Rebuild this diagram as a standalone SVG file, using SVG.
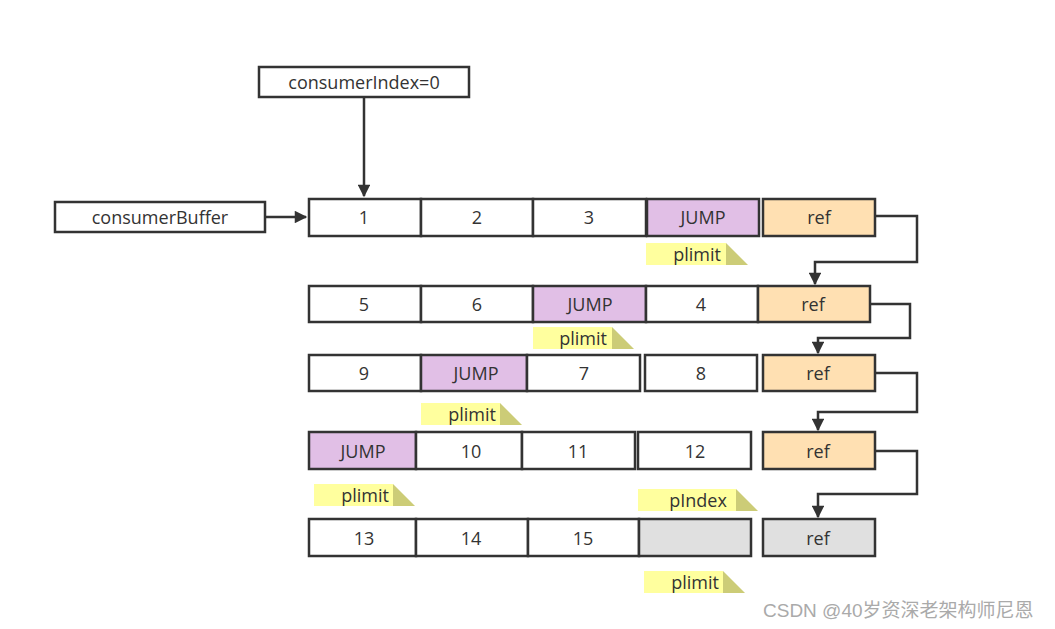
<svg xmlns="http://www.w3.org/2000/svg" width="1055" height="629" viewBox="0 0 1055 629">
<style>
.c{stroke:#333;stroke-width:2.5;fill:#fff}
.w{fill:#fff}.j{fill:#e1bfe6}.r{fill:#ffe0b2}.g{fill:#e0e0e0}
text{font-family:"Open Sans","Noto Sans","Liberation Sans",sans-serif;font-size:18px;fill:#333;text-anchor:middle;dominant-baseline:central}
.ln{stroke:#333;stroke-width:2.5;fill:none}
.ny{fill:#ffff9e}.nt{fill:#cccc77}
.wm{font-family:"Liberation Sans","Noto Sans CJK SC",sans-serif;font-size:19px;fill:#aaa;text-anchor:start}
</style>
<defs>
<marker id="ah" viewBox="0 0 10 10" refX="9" refY="5" markerWidth="6" markerHeight="5" orient="auto" markerUnits="strokeWidth">
<path d="M0,0L10,5L0,10z" fill="#333"/>
</marker>
</defs>
<rect width="1055" height="629" fill="#fff"/>
<g id="connectors">
<path class="ln" d="M364,97V196" marker-end="url(#ah)"/>
<path class="ln" d="M265,217H306" marker-end="url(#ah)"/>
<path class="ln" d="M875,216H917V262H815V284" marker-end="url(#ah)"/>
<path class="ln" d="M870,304H910V338H818V353" marker-end="url(#ah)"/>
<path class="ln" d="M875,373H917V412H818V430" marker-end="url(#ah)"/>
<path class="ln" d="M875,451H917V494H818V517" marker-end="url(#ah)"/>
</g>
<g id="consumerIndex"><rect class="c" x="259" y="67" width="210" height="30"/><text x="364" y="82">consumerIndex=0</text></g>
<g id="consumerBuffer"><rect class="c" x="55" y="202" width="210" height="30"/><text x="160" y="217">consumerBuffer</text></g>
<g id="row1">
<rect class="c w" x="309" y="199" width="112" height="37"/><text x="364" y="217">1</text>
<rect class="c w" x="421" y="199" width="112" height="37"/><text x="477" y="217">2</text>
<rect class="c w" x="533" y="199" width="113" height="37"/><text x="589" y="217">3</text>
<rect class="c j" x="647" y="199" width="112" height="37"/><text x="703" y="217">JUMP</text>
<rect class="c r" x="763" y="199" width="112" height="37"/><text x="819" y="217">ref</text>
</g>
<g id="row2">
<rect class="c w" x="309" y="286" width="112" height="36"/><text x="364" y="304">5</text>
<rect class="c w" x="421" y="286" width="112" height="36"/><text x="477" y="304">6</text>
<rect class="c j" x="533" y="286" width="113" height="36"/><text x="590" y="304">JUMP</text>
<rect class="c w" x="646" y="286" width="112" height="36"/><text x="701" y="304">4</text>
<rect class="c r" x="758" y="286" width="112" height="36"/><text x="813" y="304">ref</text>
</g>
<g id="row3">
<rect class="c w" x="309" y="355" width="112" height="36"/><text x="364" y="373">9</text>
<rect class="c j" x="421" y="355" width="106" height="36"/><text x="476" y="373">JUMP</text>
<rect class="c w" x="527" y="355" width="113" height="36"/><text x="584" y="373">7</text>
<rect class="c w" x="645" y="355" width="112" height="36"/><text x="701" y="373">8</text>
<rect class="c r" x="763" y="355" width="112" height="36"/><text x="818" y="373">ref</text>
</g>
<g id="row4">
<rect class="c j" x="309" y="432" width="107" height="37"/><text x="363" y="451">JUMP</text>
<rect class="c w" x="416" y="432" width="106" height="37"/><text x="471" y="451">10</text>
<rect class="c w" x="522" y="432" width="113" height="37"/><text x="578" y="451">11</text>
<rect class="c w" x="638" y="432" width="113" height="37"/><text x="695" y="451">12</text>
<rect class="c r" x="763" y="432" width="112" height="37"/><text x="818" y="451">ref</text>
</g>
<g id="row5">
<rect class="c w" x="309" y="519" width="107" height="37"/><text x="364" y="538">13</text>
<rect class="c w" x="416" y="519" width="112" height="37"/><text x="471" y="538">14</text>
<rect class="c w" x="528" y="519" width="111" height="37"/><text x="583" y="538">15</text>
<rect class="c g" x="639" y="519" width="112" height="37"/>
<rect class="c g" x="763" y="519" width="112" height="37"/><text x="818" y="538">ref</text>
</g>
<g id="plimit1"><rect class="ny" x="646" y="243" width="80" height="22"/><path class="nt" d="M726,243L748,265H726z"/><text x="697" y="254">plimit</text></g>
<g id="plimit2"><rect class="ny" x="533" y="327" width="79" height="22"/><path class="nt" d="M612,327L634,349H612z"/><text x="583" y="338">plimit</text></g>
<g id="plimit3"><rect class="ny" x="421" y="403" width="79" height="22"/><path class="nt" d="M500,403L522,425H500z"/><text x="472" y="414">plimit</text></g>
<g id="plimit4"><rect class="ny" x="314" y="484" width="79" height="22"/><path class="nt" d="M393,484L415,506H393z"/><text x="365" y="495">plimit</text></g>
<g id="pIndex"><rect class="ny" x="638" y="489" width="98" height="22"/><path class="nt" d="M736,489L758,511H736z"/><text x="698" y="500">pIndex</text></g>
<g id="plimit5"><rect class="ny" x="644" y="571" width="79" height="22"/><path class="nt" d="M723,571L745,593H723z"/><text x="695" y="582">plimit</text></g>
<text class="wm" x="763" y="610">CSDN @40岁资深老架构师尼恩</text>
</svg>
